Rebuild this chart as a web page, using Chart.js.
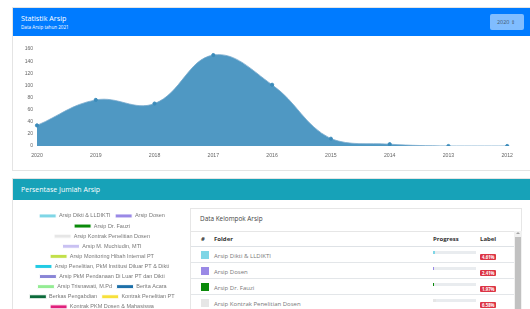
<!DOCTYPE html>
<html>
<head>
<meta charset="utf-8">
<script src="https://cdn.jsdelivr.net/npm/chart.js@4.4.0/dist/chart.umd.min.js"></script>
<style>
  html, body { margin: 0; padding: 0; width: 530px; height: 309px; overflow: hidden; }
  body { position: relative; background: #fff; font-family: "Open Sans", sans-serif; }
  .card { position: absolute; left: 12px; width: 540px; border: 1px solid #e4e4e4; box-sizing: border-box; }
  #cardStat { top: 7px; height: 164px; }
  #cardPie { top: 178px; height: 200px; }
  .head-blue { position: absolute; left: 0; top: 0; right: 0; height: 28px; background: #007bff; color: #fff; }
  .head-blue .t1 { position: absolute; left: 8px; top: 5px; font-size: 7.2px; }
  .head-blue .t2 { position: absolute; left: 8px; top: 16px; font-size: 4.6px; }
  .sel { position: absolute; left: 477px; top: 6px; width: 34px; height: 16px; background: #80bdff; border-radius: 2px; color: #44576e; font-size: 5.4px; line-height: 16px; text-indent: 7px; }
  .head-teal { position: absolute; left: 0; top: 0; right: 0; height: 21px; background: #17a2b8; color: #fff; font-size: 7px; line-height: 21px; text-indent: 8px; }
  #wrapLine { position: absolute; left: 14px; top: 38px; width: 505px; height: 122px; }
  #wrapPie { position: absolute; left: 21px; top: 203px; width: 162px; height: 300px; }
  #box { position: absolute; left: 190px; top: 208px; width: 332px; height: 120px; border: 1px solid #e6e6e6; box-sizing: border-box; overflow: hidden; }
  #box .ttl { position: absolute; left: 9px; top: 5px; font-size: 6.4px; color: #444; }
  #box .line { position: absolute; left: 0; top: 22px; width: 100%; border-top: 1px solid #e6e6e6; }
  table { position: absolute; left: 0; top: 23px; width: 324px; border-collapse: collapse; table-layout: fixed; font-size: 6px; }
  th { height: 14px; text-align: left; font-weight: 700; color: #333; border-bottom: 1.5px solid #dee2e6; padding: 0; }
  td { height: 15px; border-top: 1px solid #e3e6e9; padding: 0; color: #777; vertical-align: top; position: relative; }
  .c1 { padding-left: 10px; }
  .sq { position: absolute; left: 10px; top: 4px; width: 8px; height: 8px; }
  .nm { display: block; padding-top: 5px; }
  .pg { position: absolute; left: 0; top: 4px; width: 43px; height: 2.5px; background: #e9ecef; }
  .pg div { height: 100%; }
  .bd { position: absolute; left: 0; top: 7px; height: 6px; padding: 0 2px; background: #dc3545; color: #fff; font-size: 4.3px; font-weight: 700; line-height: 6px; border-radius: 1px; }
  #sbar { position: absolute; left: 514px; top: 231px; width: 8px; height: 78px; background: #f1f1f1; }
  #sbar .th { position: absolute; left: 1px; top: 6px; width: 6px; height: 80px; background: #c1c1c1; }
  #sbar .ar { position: absolute; left: 2px; top: 1px; width: 0; height: 0; border-left: 2px solid transparent; border-right: 2px solid transparent; border-bottom: 2px solid #a3a3a3; }
</style>
</head>
<body>
<div class="card" id="cardStat">
  <div class="head-blue">
    <div class="t1">Statistik Arsip</div>
    <div class="t2">Data Arsip tahun 2021</div>
    <div class="sel">2020 &#8661;</div>
  </div>
</div>
<div id="wrapLine"><canvas id="lineChart"></canvas></div>

<div class="card" id="cardPie">
  <div class="head-teal">Persentase Jumlah Arsip</div>
</div>
<div id="wrapPie"><canvas id="pieChart"></canvas></div>

<div id="box">
  <div class="ttl">Data Kelompok Arsip</div>
  <div class="line"></div>
  <table>
    <colgroup><col style="width:23px"><col style="width:219px"><col style="width:47px"><col style="width:35px"></colgroup>
    <thead><tr><th class="c1">#</th><th>Folder</th><th>Progress</th><th>Label</th></tr></thead>
    <tbody id="rows"></tbody>
  </table>
</div>
<div id="sbar"><div class="ar"></div><div class="th"></div></div>

<script>
// Statistik Arsip
const years = ["2020", "2019", "2018", "2017", "2016", "2015", "2014", "2013", "2012"];
const jumlahArsip = [34, 76, 70, 150, 101, 12, 3, 0, 0];
const yTicks = [0, 20, 40, 60, 80, 100, 120, 140, 160];

// Persentase Jumlah Arsip
const folders = [
  "Arsip Dikti & LLDIKTI",
  "Arsip Dosen",
  "Arsip Dr. Fauzi",
  "Arsip Kontrak Penelitian Dosen",
  "Arsip M. Muchiudin, MTI",
  "Arsip Monitoring Hibah Internal PT",
  "Arsip Penelitian, PkM Institusi Diluar PT & Dikti",
  "Arsip PkM Pendanaan Di Luar PT dan Dikti",
  "Arsip Trisnawati, M.Pd",
  "Berita Acara",
  "Berkas Pengabdian",
  "Kontrak Penelitian PT",
  "Kontrak PKM Dosen & Mahasiswa",
];
const persen = [4.61, 2.41, 1.97, 6.58, 8.55, 5.26, 12.06, 7.02, 3.29, 10.31, 17.98, 11.40, 8.56];
const warna = [
  "#7fd6e6", "#9a89e6", "#0a8a0a", "#e6e6e6", "#c9c1f2", "#c2e04a", "#22cbe4",
  "#8985d6", "#94ec94", "#1c6fa8", "#0b6a3a", "#f7e03a", "#e0207c",
];

const ctx1 = document.getElementById("lineChart").getContext("2d");
const lineChart = new Chart(ctx1, {
  type: "line",
  data: {
    labels: years,
    datasets: [
      {
        label: "Jumlah Arsip",
        data: jumlahArsip,
        fill: true,
        tension: 0.4,
        backgroundColor: "rgba(60, 141, 188, 0.9)",
        borderColor: "rgba(120, 170, 205, 0.8)",
        borderWidth: 1,
        pointRadius: 1.6,
        pointBackgroundColor: "#3b8bba",
        pointBorderColor: "#3b8bba",
      },
    ],
  },
  options: {
    responsive: true,
    maintainAspectRatio: false,
    animation: false,
    layout: { padding: { top: 11, right: 0, left: 0, bottom: 0 } },
    plugins: { legend: { display: false }, tooltip: { enabled: false } },
    scales: {
      x: {
        grid: { display: false, drawTicks: false },
        border: { display: false },
        ticks: { color: "#666", font: { size: 5.2, family: "Liberation Sans" }, padding: 6, maxRotation: 0 },
        afterFit: (scale) => { scale.height = 14; },
      },
      y: {
        min: 0,
        max: 160,
        grid: { display: false, drawTicks: false },
        border: { display: false },
        afterBuildTicks: (scale) => { scale.ticks = yTicks.map((v) => ({ value: v })); },
        ticks: { color: "#666", font: { size: 5, family: "Liberation Sans" }, padding: 4 },
        afterFit: (scale) => { scale.width = 23; },
      },
    },
  },
});

const ctx2 = document.getElementById("pieChart").getContext("2d");
const pieChart = new Chart(ctx2, {
  type: "doughnut",
  data: {
    labels: folders,
    datasets: [{ data: persen, backgroundColor: warna, borderWidth: 1 }],
  },
  options: {
    responsive: true,
    maintainAspectRatio: false,
    animation: false,
    layout: { padding: { top: 5.6 } },
    plugins: {
      tooltip: { enabled: false },
      legend: {
        position: "top",
        labels: { boxWidth: 17, boxHeight: 4, padding: 4.6, color: "#777", font: { size: 5.5, family: "Liberation Sans" } },
      },
    },
  },
});

// Data Kelompok Arsip table
const tbody = document.getElementById("rows");
folders.forEach((nama, i) => {
  const tr = document.createElement("tr");
  tr.innerHTML =
    '<td><div class="sq" style="background:' + warna[i] + '"></div></td>' +
    '<td><span class="nm">' + nama + "</span></td>" +
    '<td><div class="pg"><div style="width:' + persen[i] + '%;background:' + warna[i] + '"></div></div></td>' +
    '<td><span class="bd">' + persen[i].toFixed(2) + "%</span></td>";
  tbody.appendChild(tr);
});
</script>
</body>
</html>
